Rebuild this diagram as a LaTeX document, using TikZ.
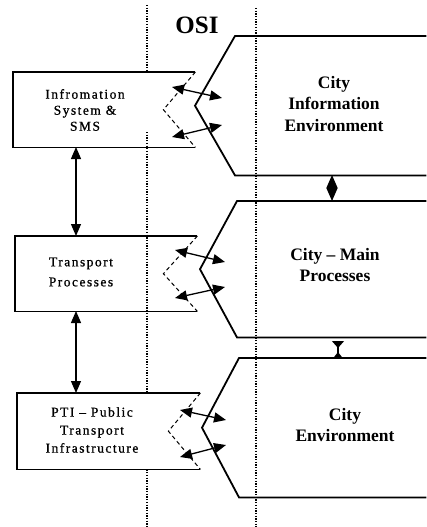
\documentclass[tikz,border=0pt]{standalone}
\usepackage{fontspec}
\setmainfont{Liberation Serif}
\usetikzlibrary{arrows.meta,calc}
\begin{document}
\begin{tikzpicture}[x=1pt,y=-1pt,
  frame/.style={line width=1.8pt},
  notch/.style={line width=1pt, dash pattern=on 4pt off 3pt},
  osiline/.style={line width=1.3pt, dash pattern=on 1.3pt off 1.4pt},
  blockarea/.style={draw=none, fill=white, inner sep=0pt, anchor=north west},
  envarea/.style={draw=none, inner sep=0pt, anchor=north west},
  link/.style={line width=1.3pt, {Triangle[length=12pt,width=10pt]}-{Triangle[length=12pt,width=10pt]}},
  biglink/.style={line width=1.2pt, {Triangle[length=13pt,width=11pt]}-{Triangle[length=13pt,width=11pt]}},
  pinch/.style={line width=1.2pt, {Triangle[reversed,length=7pt,width=12pt]}-{Triangle[reversed,length=6pt,width=9pt]}},
  blockfont/.style={font=\fontsize{13.5}{#1}\selectfont\addfontfeature{LetterSpace=11,FakeBold=0.8}},
  blocktext/.style={align=center, inner sep=0pt},
  envtext/.style={align=center, inner sep=0pt, font=\bfseries\fontsize{17.5}{21.5}\selectfont},
]
\useasboundingbox (0,0) rectangle (426,527);

% OSI layer boundaries
\coordinate (osiL-top) at (147,5);
\coordinate (osiL-bot) at (147,527);
\coordinate (osiR-top) at (256,8);
\coordinate (osiR-bot) at (256,527);
\draw[osiline] (osiL-top) -- (osiL-bot);
\draw[osiline] (osiR-top) -- (osiR-bot);
\node[font=\bfseries\fontsize{25}{30}\selectfont, inner sep=0pt] (osi) at (197,25) {OSI};

% left blocks
\node[blockarea, minimum width=182pt, minimum height=75pt] (ism) at (13,72) {};
\node[minimum width=182pt, minimum height=75pt, inner sep=0pt, anchor=north west] (tp) at (15,236) {};
\node[blockarea, minimum width=183pt, minimum height=76pt] (pti) at (17,393) {};

\coordinate (osiL-in1) at (147,132);
\coordinate (osiL-in2) at (147,147);
\draw[osiline] (osiL-in1) -- (osiL-in2);

\foreach \b/\d in {ism/32, tp/34, pti/32}{
  \draw[frame] (\b.north east) -- (\b.north west) -- (\b.south west) -- (\b.south east);
  \draw[notch] (\b.north east) -- ([xshift=-\d pt]\b.east) -- (\b.south east);
}

\node[blocktext, blockfont=16] (ism-t) at (85,110) {Infromation\\System \&\\SMS};
\node[blocktext, blockfont=20] (tp-t) at (81,272) {Transport\\Processes};
\node[blocktext, blockfont=18] (pti-t) at (92,430) {PTI -- Public\\Transport\\Infrastructure};

% city blocks
\node[envarea, minimum width=191pt, minimum height=139pt] (cie) at (235,36) {};
\node[envarea, minimum width=189pt, minimum height=136pt] (cmp) at (237,201) {};
\node[envarea, minimum width=187pt, minimum height=139pt] (ce) at (239,358) {};
\foreach \b/\d in {cie/40, cmp/37, ce/37}{
  \draw[frame] (\b.north east) -- (\b.north west) -- ([xshift=-\d pt]\b.west) -- (\b.south west) -- (\b.south east);
}

\node[envtext] (cie-t) at (334,104) {City\\Information\\Environment};
\node[envtext] (cmp-t) at (335,265) {City -- Main\\Processes};
\node[envtext] (ce-t) at (345,425) {City\\Environment};

% links between the blocks across the OSI layer
\coordinate (ism-u) at (172,87);  \coordinate (cie-u) at (222,98);
\coordinate (ism-d) at (172,137); \coordinate (cie-d) at (222,125);
\coordinate (tp-u) at (175,250);  \coordinate (cmp-u) at (225,262);
\coordinate (tp-d) at (175,298);  \coordinate (cmp-d) at (225,287);
\coordinate (pti-u) at (180,410); \coordinate (ce-u) at (226,420);
\coordinate (pti-d) at (180,457); \coordinate (ce-d) at (226,445);
\foreach \a/\c in {ism-u/cie-u, ism-d/cie-d, tp-u/cmp-u, tp-d/cmp-d, pti-u/ce-u, pti-d/ce-d}{
  \draw[link] (\a) -- (\c);
}

% vertical links
\coordinate (v1a) at (76,147); \coordinate (v1b) at (76,236);
\coordinate (v2a) at (76,311); \coordinate (v2b) at (76,393);
\draw[link] (v1a) -- (v1b);
\draw[link] (v2a) -- (v2b);

\coordinate (h1a) at (332,175); \coordinate (h1b) at (332,201);
\draw[biglink] (h1a) -- (h1b);
\coordinate (h2a) at (338,341); \coordinate (h2b) at (338,358);
\draw[pinch] (h2a) -- (h2b);
\end{tikzpicture}
\end{document}
